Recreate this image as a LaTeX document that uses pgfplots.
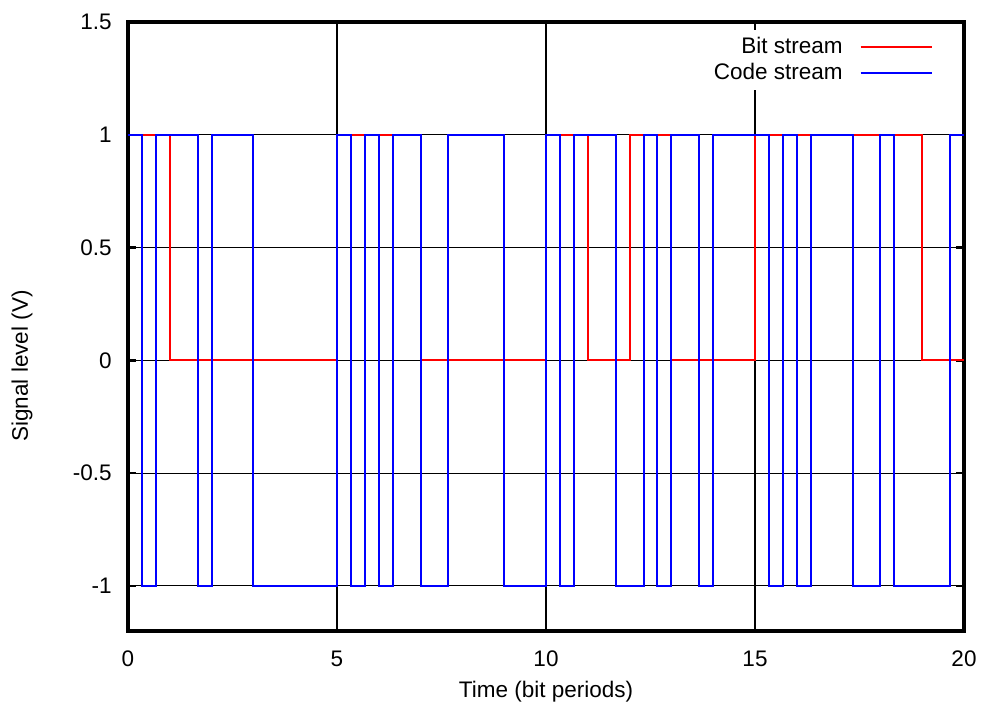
\documentclass[border=0pt]{standalone}
\usepackage{pgfplots}
\pgfplotsset{compat=1.18}
\usepackage{fontspec}
\setmainfont{Liberation Sans}
\begin{document}
\fontsize{11.25}{13.5}\selectfont
\begin{tikzpicture}
\useasboundingbox (-64pt,-40pt) rectangle (428.5pt,315.5pt);
\begin{axis}[
  at={(0,0)}, anchor=south west,
  scale only axis, width=418pt, height=304.5pt,
  xmin=0, xmax=20, ymin=-1.2, ymax=1.5,
  xtick={0,5,10,15,20}, xticklabels={0,5,10,15,20},
  ytick={-1,-0.5,0,0.5,1,1.5}, yticklabels={-1,-0.5,0,0.5,1,1.5},
  grid=major,
  major grid style={black, line width=0.6pt},
  axis line style={black, line width=1.8pt},
  major tick length=4pt,
  tick style={black, line width=1.2pt},
  tick align=inside,
  ticklabel style={font=\fontsize{11.25}{13.5}\selectfont},
  yticklabel style={anchor=east, inner sep=0pt, xshift=-8pt},
  xticklabel style={anchor=base, inner sep=0pt, yshift=-18pt},
  xlabel={Time (bit periods)},
  ylabel={Signal level (V)},
  label style={font=\fontsize{11.25}{13.5}\selectfont},
  xlabel style={at={(axis description cs:0.5,0)}, anchor=base, yshift=-33.5pt},
  ylabel style={at={(axis description cs:-0.1268,0.4351)}, anchor=center},
  legend plot pos=right,
  legend cell align=right,
  legend style={at={(rel axis cs:0.9713,0.9869)}, anchor=north east, draw=none, fill=white,
    inner sep=3.5pt, row sep=3pt, column sep=8.5pt,
    font=\fontsize{11.25}{13.5}\selectfont, nodes={inner sep=0pt}},
  legend image code/.code={\draw[#1, line width=1pt] (0pt,0pt) -- (35.5pt,0pt);},
]
\addplot[const plot, red, line width=1pt, mark=none] coordinates {
  (0,1) (1,0) (5,1) (7,0) (10,1) (11,0) (12,1) (13,0) (15,1) (19,0) (20,0)
};
\addlegendentry{Bit stream}
\addplot[const plot, blue, line width=1pt, mark=none] coordinates {
  (0,1) (0.3333,-1) (0.6667,1) (1.6667,-1) (2,1) (3,-1)
  (5,1) (5.3333,-1) (5.6667,1) (6,-1) (6.3333,1) (7,-1) (7.6667,1) (9,-1)
  (10,1) (10.3333,-1) (10.6667,1) (11.6667,-1) (12.3333,1) (12.6667,-1)
  (13,1) (13.6667,-1) (14,1) (15.3333,-1) (15.6667,1) (16,-1) (16.3333,1)
  (17.3333,-1) (18,1) (18.3333,-1) (19.6667,1) (20,1)
};
\addlegendentry{Code stream}
\end{axis}
\end{tikzpicture}
\end{document}
